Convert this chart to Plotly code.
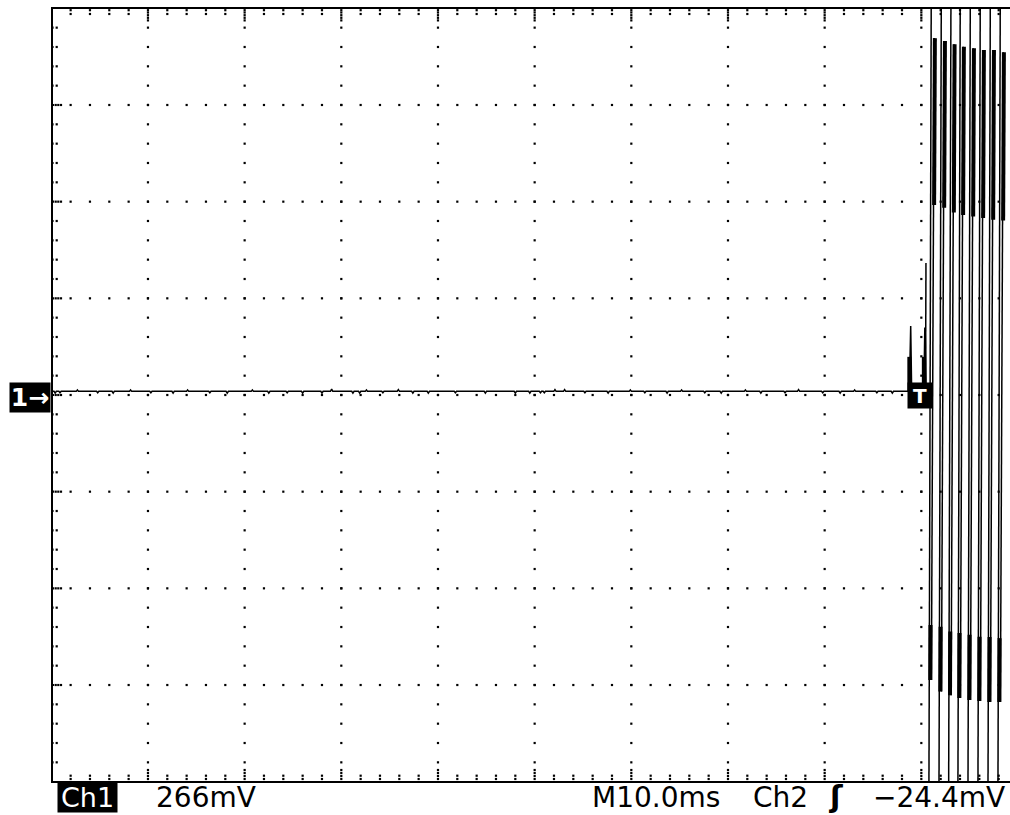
import plotly.graph_objects as go

# ---------------- data ----------------
MV_PER_DIV = 266.0      # Ch1 266 mV/div
MS_PER_DIV = 10.0       # M 10.0 ms/div

base_level = 10.0       # mV, flat trace before the trigger
blip_t = [0.4, 0.9, 2.7, 4.8, 6.4, 8.2, 10.3, 12.6, 14.1, 16.4, 18.2, 20.8, 22.5, 24.4,
          26.0, 28.0, 29.0, 31.2, 31.9, 32.6, 34.3, 35.9, 37.4, 39.0, 41.8, 44.9, 48.0,
          49.5, 50.6, 51.0, 52.1, 53.1, 55.2, 57.6, 59.9, 61.4, 63.7, 65.2, 67.6, 69.3,
          71.8, 73.4, 75.9, 77.3, 79.8, 81.6, 83.1, 85.4, 87.0]
blip_dv = [-5, -4, 4, -4, -5, 4, -4, -5, 4, -4, -5, 4, -5, -4,
           -5, -5, 6, -5, -5, 4, -4, 5, -5, -5, -4, -5, -5,
           -5, -4, -4, 5, 5, -4, -5, 4, -4, -5, 4, -4, -5,
           4, -5, -4, 5, -4, -5, 4, -4, -5]

spike_t = [88.88, 90.38]          # ms, first cycles at the trigger
spike_peak = [190.0, 184.0]       # mV
spike_thick_top = [105.0, 105.0]  # mV

partial_t = 90.48                 # ms, first (partial) column
partial_top = 363.0               # mV
partial_bot = 0.0                 # mV

col_t = [91.34, 92.38, 93.38, 94.34, 95.38, 96.41, 97.45, 98.48]          # ms
top_thick_start = [982, 974, 965, 958, 954, 949, 949, 943]                # mV
top_thick_end = [523, 515, 502, 495, 491, 487, 482, 480]                  # mV
bot_thick_start = [-633, -638, -651, -655, -660, -665, -666, -669]        # mV
bot_thick_end = [-784, -816, -826, -834, -839, -842, -845, -845]          # mV

# ---------------- geometry helpers (style) ----------------
PX_PER_DIV = 96.67
PX_MS = MS_PER_DIV / PX_PER_DIV
PX_MV = MV_PER_DIV / PX_PER_DIV
L_TOP_OFF, L_BOT_OFF = -0.27, -0.60   # slant of the left stroke (ms)
R_SLANT = -0.30                       # slant of the right stroke (ms)
FAR = 1500.0                          # beyond the screen (clipped)

# thin trace
tx, ty = [], []
tx.append(0.0); ty.append(base_level)
for t, dv in zip(blip_t, blip_dv):
    tx += [t - 0.12, t, t + 0.12]
    ty += [base_level, base_level + dv, base_level]
for t, pk in zip(spike_t, spike_peak):
    tx += [t - 0.12, t - 0.02, t + 0.02, t + 0.12]
    ty += [base_level, pk, pk, base_level]
tx.append(col_t[0] - 0.45); ty.append(base_level)
tx.append(None); ty.append(None)
tx += [partial_t, partial_t - 0.05, None]
ty += [partial_top, partial_bot, None]
for i, t in enumerate(col_t):
    tx += [t + L_TOP_OFF, t + L_BOT_OFF, None]
    ty += [FAR, -FAR, None]
    tx += [t, t + R_SLANT, None]
    ty += [top_thick_start[i], bot_thick_end[i], None]

# thick trace
kx, ky = [], []
for t, pk, th in zip(spike_t, spike_peak, spike_thick_top):
    kx += [t - 0.12, t - 0.12, None]
    ky += [th, base_level, None]
def rx(i, y):
    t = col_t[i]
    frac = (top_thick_start[i] - y) / (top_thick_start[i] - bot_thick_end[i])
    return t + R_SLANT * frac
def lx(i, y):
    t = col_t[i]
    frac = (FAR - y) / (2 * FAR)
    return t + L_TOP_OFF + (L_BOT_OFF - L_TOP_OFF) * frac
for i in range(len(col_t)):
    y0, y1 = top_thick_start[i], top_thick_end[i]
    kx += [rx(i, y0) + 0.06, rx(i, y1) + 0.06, None]
    ky += [y0, y1, None]
    y2, y3 = bot_thick_start[i], bot_thick_end[i]
    kx += [(rx(i, y2) + lx(i, y2)) / 2, (rx(i, y3) + lx(i, y3)) / 2, None]
    ky += [y2, y3, None]

# graticule dots
gx, gy = [], []
for k in range(1, 10):
    for j in range(-19, 20):
        gx.append(k * MS_PER_DIV); gy.append(j * 0.2 * MV_PER_DIV)
for m in range(-3, 4):
    for j in range(1, 50):
        gx.append(j * 0.2 * MS_PER_DIV); gy.append(m * MV_PER_DIV)
top_y = (395 - 8.2) * PX_MV
bot_y = (395 - 781.5) * PX_MV
for j in range(1, 50):
    x = j * 0.2 * MS_PER_DIV
    if j % 5 == 0:
        offs_t = [2.0, 4.3, 7.0, 9.6, 12.2]
        offs_b = [2.5, 5.5, 8.5, 11.5]
    else:
        offs_t = [2.0, 5.8]
        offs_b = [2.5, 5.8]
    for o in offs_t:
        gx.append(x); gy.append(top_y - o * PX_MV)
    for o in offs_b:
        gx.append(x); gy.append(bot_y + o * PX_MV)
for j in range(-19, 20):
    y = j * 0.2 * MV_PER_DIV
    offs = [1.7, 4.4, 7.0, 9.7] if j % 5 == 0 else [1.2, 5.4]
    for o in offs:
        gx.append(o * PX_MS); gy.append(y)

fig = go.Figure()
fig.add_trace(go.Scatter(x=tx, y=ty, mode="lines",
                         line=dict(color="black", width=1.5),
                         hoverinfo="skip", showlegend=False))
fig.add_trace(go.Scatter(x=kx, y=ky, mode="lines",
                         line=dict(color="black", width=4),
                         hoverinfo="skip", showlegend=False))
fig.add_trace(go.Scatter(x=gx, y=gy, mode="markers",
                         marker=dict(color="black", size=2.2, symbol="square"),
                         hoverinfo="skip", showlegend=False))

W, H = 1010, 815
ML, MT, MB = 53, 9, 34
PW, PH = W - ML, H - MT - MB
def pxx(px):
    return (px - ML) / PW
def pxy(py):
    return (H - MB - py) / PH

FONT = "DejaVu Sans"
ann = []
ann.append(dict(xref="paper", yref="paper", x=pxx(30), y=pxy(397), text="<b>1→</b>",
                showarrow=False, bgcolor="black", font=dict(family=FONT, size=25, color="white"),
                width=40, height=29, borderpad=0, xanchor="center", yanchor="middle"))
ann.append(dict(x=89.86, y=-1.0, text="<b>T</b>", showarrow=False, bgcolor="black",
                font=dict(family=FONT, size=20, color="white"),
                width=24, height=25, borderpad=0, xanchor="center", yanchor="middle"))
ann.append(dict(xref="paper", yref="paper", x=pxx(87.8), y=pxy(797.3), text="Ch1",
                showarrow=False, bgcolor="black", font=dict(family=FONT, size=27, color="white"),
                width=59, height=29, borderpad=0, xanchor="center", yanchor="middle"))
for txt, cx in [("266mV", 206), ("M10.0ms", 656), ("Ch2", 780.7)]:
    ann.append(dict(xref="paper", yref="paper", x=pxx(cx), y=pxy(797.3), text=txt,
                    showarrow=False, font=dict(family=FONT, size=28, color="black"),
                    xanchor="center", yanchor="middle"))
ann.append(dict(xref="paper", yref="paper", x=pxx(836), y=pxy(796), text="<b>ʃ</b>",
                showarrow=False, font=dict(family=FONT, size=30, color="black"),
                xanchor="center", yanchor="middle"))
ann.append(dict(xref="paper", yref="paper", x=pxx(1007), y=pxy(797.3), text="−24.4mV",
                showarrow=False, font=dict(family=FONT, size=28, color="black"),
                xanchor="right", yanchor="middle"))

x0 = (ML - 51.3) * PX_MS
x1 = (W - 51.3) * PX_MS
y1 = (395 - MT) * PX_MV
y0 = (395 - (H - MB)) * PX_MV

fig.update_layout(
    width=W, height=H,
    margin=dict(l=ML, r=0, t=MT, b=MB, pad=0),
    paper_bgcolor="white", plot_bgcolor="white",
    xaxis=dict(range=[x0, x1], showgrid=False, zeroline=False, showticklabels=False,
               ticks="", showline=True, linecolor="black", linewidth=2, mirror=True,
               fixedrange=True),
    yaxis=dict(range=[y0, y1], showgrid=False, zeroline=False, showticklabels=False,
               ticks="", showline=True, linecolor="black", linewidth=2, mirror=False,
               fixedrange=True),
    annotations=ann,
    showlegend=False,
)
fig.write_html("out.html", config={"displayModeBar": False},
               post_script="document.body.style.margin='0';document.body.style.overflow='hidden';")
